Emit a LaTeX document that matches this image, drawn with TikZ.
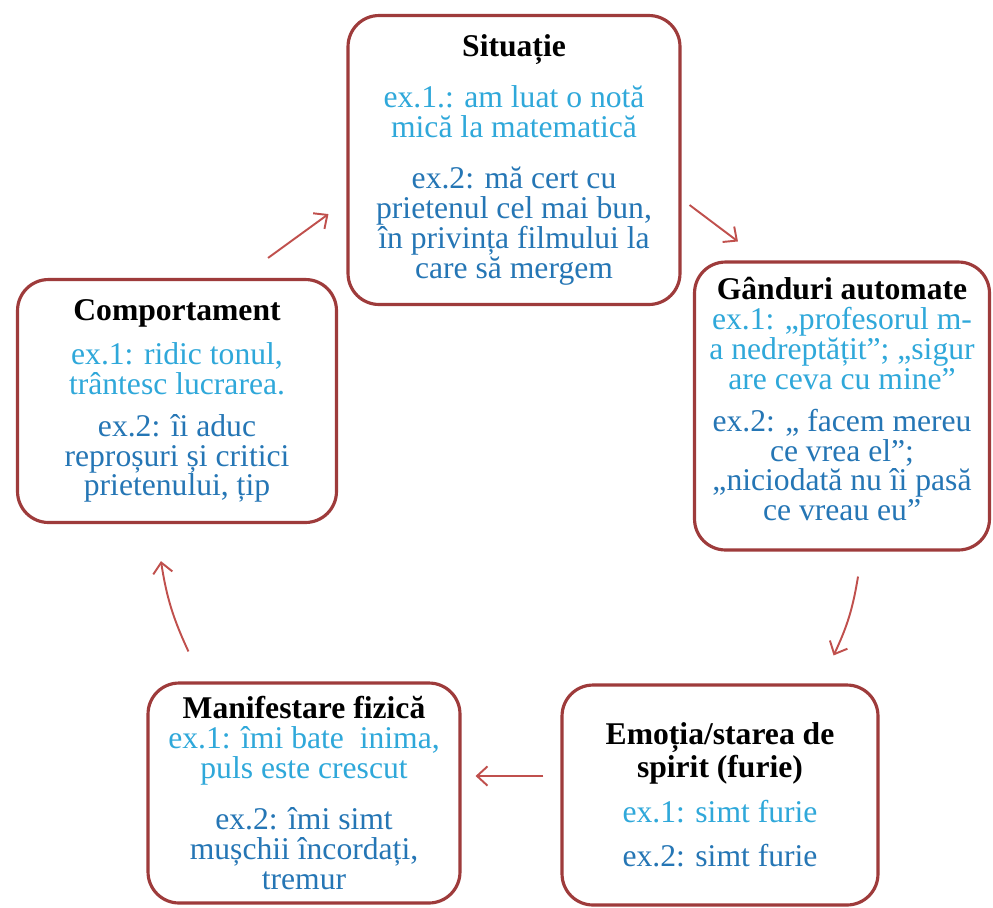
\documentclass[tikz,border=0pt]{standalone}
\usepackage{fontspec}
\setmainfont{Liberation Serif}
\usetikzlibrary{arrows.meta,positioning,calc}
\definecolor{cbtred}{HTML}{9E3B3B}
\definecolor{cbtarrow}{HTML}{C0504D}
\definecolor{cbtlight}{HTML}{2FA8DA}
\definecolor{cbtdark}{HTML}{2576B5}
\newcommand{\exa}[1]{\textcolor{cbtlight}{#1}}
\newcommand{\exb}[1]{\textcolor{cbtdark}{#1}}
\tikzset{
    stagebox/.style={draw=cbtred, line width=1.8pt, rounded corners=0.62cm, fill=white,
        align=center, inner sep=0pt, font=\fontsize{18}{17}\selectfont},
    cyclearrow/.style={draw=cbtarrow, line width=1.1pt, -{Straight Barb[length=6pt,width=11pt]}}
}

\begin{document}
\begin{tikzpicture}[x=0.02cm, y=-0.02cm]
    \useasboundingbox (0,0) rectangle (993,907);

    % Situatie
    \node[stagebox, minimum width=6.64cm, minimum height=5.78cm] (sit) at (514,160)
        {\textbf{Situație}\\[11pt]
         \exa{ex.1.: am luat o notă}\\ \exa{mică la matematică}\\[12pt]
         \exb{ex.2: mă cert cu}\\ \exb{prietenul cel mai bun,}\\
         \exb{în privința filmului la}\\ \exb{care să mergem}};

    % Ganduri automate
    \node[stagebox, minimum width=5.9cm, minimum height=5.76cm, text depth=8pt] (gand) at (842,406)
        {\textbf{Gânduri automate}\\
         \exa{ex.1: ,,profesorul m-}\\ \exa{a nedreptățit"; ,,sigur}\\ \exa{are ceva cu mine"}\\[7pt]
         \exb{ex.2: ,, facem mereu}\\ \exb{ce vrea el";}\\
         \exb{,,niciodată nu îi pasă}\\ \exb{ce vreau eu"}};

    % Emotia
    \node[stagebox, minimum width=6.32cm, minimum height=4.4cm] (emo) at (720,795)
        {\textbf{Emoția/starea de}\\ \textbf{spirit (furie)}\\[9pt]
         \exa{ex.1: simt furie}\\[8pt]
         \exb{ex.2: simt furie}};

    % Manifestare fizica
    \node[stagebox, minimum width=6.24cm, minimum height=4.4cm] (manif) at (304,793)
        {\textbf{Manifestare fizică}\\
         \exa{ex.1: îmi bate\ \ inima,}\\ \exa{puls este crescut}\\[12pt]
         \exb{ex.2: îmi simt}\\ \exb{mușchii încordați,}\\ \exb{tremur}};

    % Comportament
    \node[stagebox, minimum width=6.38cm, minimum height=4.86cm] (comp) at (177,401)
        {\textbf{Comportament}\\[8pt]
         \exa{ex.1: ridic tonul,}\\ \exa{trântesc lucrarea.}\\[7pt]
         \exb{ex.2: îi aduc}\\ \exb{reproșuri și critici}\\ \exb{prietenului, țip}};

    % arrows round the cycle
    \draw[cyclearrow] ($(comp.north east)+(-70,-20)$) -- ($(sit.south west)+(-18,-92)$);
    \draw[cyclearrow] ($(sit.east)+(8,45)$) -- ($(gand.north west)+(45,-19)$);
    \draw[cyclearrow] ($(gand.south)+(16,25)$) to[bend left=8] ($(emo.north east)+(-46,-28)$);
    \draw[cyclearrow] ($(emo.west)+(-17,-19)$) -- ($(manif.east)+(14,-17)$);
    \draw[cyclearrow] ($(manif.north west)+(42,-30)$) to[bend left=8] ($(comp.south west)+(145,37)$);
\end{tikzpicture}
\end{document}
